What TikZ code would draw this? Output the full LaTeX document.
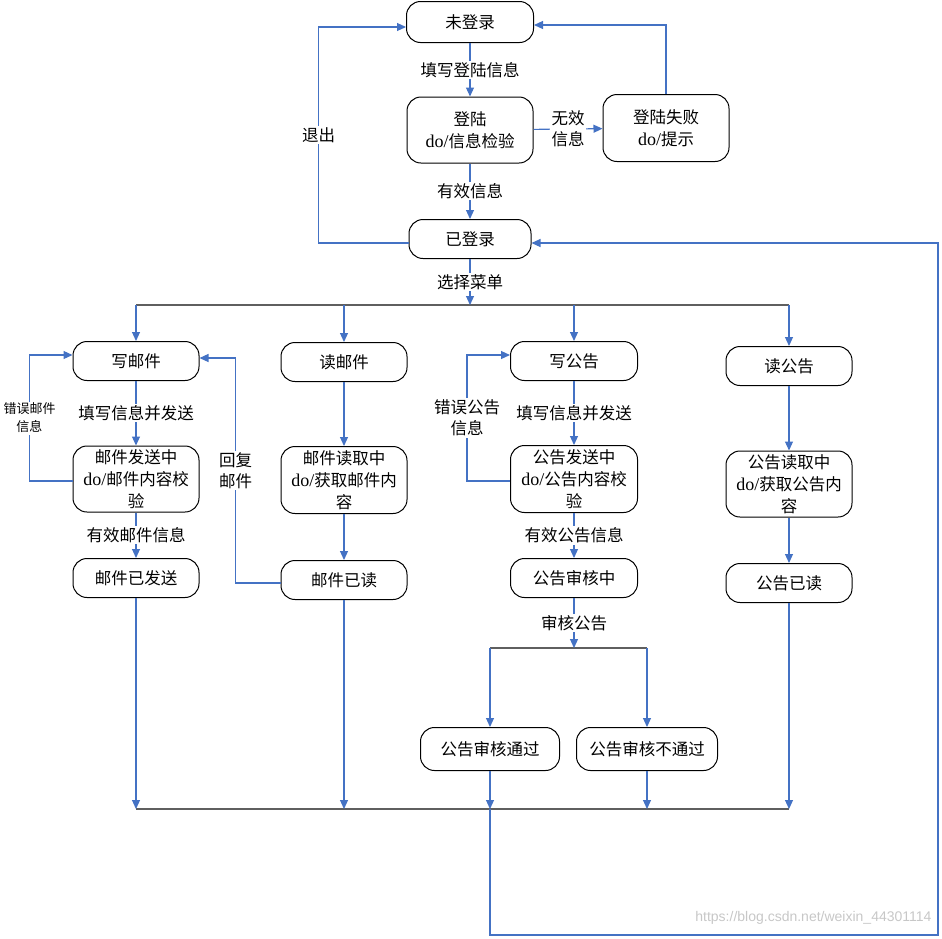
\documentclass[tikz,border=0pt]{standalone}
\usepackage{fontspec}
\setmainfont{Liberation Serif}
\newfontfamily\cjk{Noto Sans CJK SC}
\newfontfamily\wmfont{Liberation Sans}
\usetikzlibrary{arrows.meta,calc}

\definecolor{flowblue}{RGB}{68,114,196}
\definecolor{bargray}{RGB}{95,95,95}
\newcommand{\doact}{{\rmfamily\fontsize{18}{22}\selectfont do/}}

\tikzset{
  stbox/.style={draw, rounded corners=14pt, line width=1pt, inner sep=0pt,
    minimum width=126pt, minimum height=39pt, align=center,
    font=\cjk\fontsize{16.5}{22}\selectfont},
  flow/.style={draw=flowblue, line width=1.1pt, -{Triangle[length=9pt,width=8pt]}},
  bar/.style={draw=bargray, line width=2.5pt},
  lbl/.style={fill=white, inner sep=1.5pt, align=center,
    font=\cjk\fontsize{16.5}{21}\selectfont},
  smalllbl/.style={lbl, font=\cjk\fontsize{13}{18}\selectfont},
}

\begin{document}
\begin{tikzpicture}[x=1pt, y=-1pt]
    \useasboundingbox (0,0) rectangle (942,938);

    \node[stbox, minimum width=127pt, minimum height=41pt] (nologin) at (470,22) {未登录};
    \node[stbox, minimum height=66pt] (check)   at (470,130) {登陆\\\doact 信息检验};
    \node[stbox, minimum height=67pt] (fail)    at (666,128) {登陆失败\\\doact 提示};
    \node[stbox, minimum width=122pt] (login)   at (470,239) {已登录};

    \node[stbox] (wmail) at (136,361) {写邮件};
    \node[stbox, minimum height=66pt] (msend) at (136,479) {邮件发送中\\\doact 邮件内容校\\验};
    \node[stbox] (msent) at (136,578) {邮件已发送};

    \node[stbox] (rmail) at (344,362) {读邮件};
    \node[stbox, minimum height=67pt] (mread) at (344,480) {邮件读取中\\\doact 获取邮件内\\容};
    \node[stbox] (mdone) at (344,580) {邮件已读};

    \node[stbox, minimum width=127pt] (wnote) at (574,361) {写公告};
    \node[stbox, minimum width=127pt, minimum height=67pt] (nsend) at (574,479) {公告发送中\\\doact 公告内容校\\验};
    \node[stbox, minimum width=127pt] (nreview) at (574,578) {公告审核中};

    \node[stbox] (rnote) at (789,366) {读公告};
    \node[stbox, minimum height=66pt] (nread) at (789,484) {公告读取中\\\doact 获取公告内\\容};
    \node[stbox] (ndone) at (789,583) {公告已读};

    \node[stbox, minimum width=139pt, minimum height=43pt] (npass) at (490,749) {公告审核通过};
    \node[stbox, minimum width=141pt, minimum height=43pt] (nreject) at (647,749) {公告审核不通过};

    \node[font=\wmfont\fontsize{14}{14}\selectfont, text=black!22, anchor=east] (wm) at (935,918) {https://blog.csdn.net/weixin\_44301114};

    \coordinate (forkL) at (136,305);
    \coordinate (forkR) at (789,305);
    \coordinate (branchL) at (490,648);
    \coordinate (branchR) at (647,648);
    \coordinate (joinL) at (136,809);
    \coordinate (joinR) at (789,809);
    \coordinate (back) at (938,935);

    \draw[bar] (forkL) -- (forkR);
    \draw[bar] (branchL) -- (branchR);
    \draw[bar] (joinL) -- (joinR);

    \draw[flow] (nologin) -- node[lbl]{填写登陆信息} (check);
    \draw[flow] (check) -- node[lbl]{无效\\信息} (fail);
    \draw[flow] (check) -- node[lbl]{有效信息} (login);
    \draw[flow] (fail.north) |- ([yshift=-3pt]nologin.east);
    \draw[flow] ([yshift=-4pt]login.west) -- ++(-90,0) |- node[pos=0.25, lbl]{退出} ([yshift=-5pt]nologin.west);
    \draw[flow] (login) -- node[lbl]{选择菜单} (login |- forkL);

    \draw[flow] (forkL) -- (wmail);
    \draw[flow] (rmail |- forkL) -- (rmail);
    \draw[flow] (wnote |- forkL) -- (wnote);
    \draw[flow] (forkR) -- (rnote);

    \draw[flow] (wmail) -- node[lbl]{填写信息并发送} (msend);
    \draw[flow] (msend) -- node[lbl]{有效邮件信息} (msent);
    \draw[flow] ([yshift=-2pt]msend.west) -- ++(-43,0) |- node[pos=0.25, smalllbl]{错误邮件\\信息} ([yshift=6pt]wmail.west);
    \draw[flow] (rmail) -- (mread);
    \draw[flow] (mread) -- (mdone);
    \draw[flow] ([yshift=-3pt]mdone.west) -- ++(-45,0) |- node[pos=0.25, lbl]{回复\\邮件} ([yshift=3pt]wmail.east);

    \draw[flow] (wnote) -- node[lbl]{填写信息并发送} (nsend);
    \draw[flow] (nsend) -- node[lbl]{有效公告信息} (nreview);
    \draw[flow] ([yshift=-2pt]nsend.west) -- ++(-43,0) |- node[pos=0.25, lbl]{错误公告\\信息} ([yshift=6pt]wnote.west);
    \draw[flow] (nreview) -- node[lbl]{审核公告} (nreview |- branchL);
    \draw[flow] (branchL) -- (npass);
    \draw[flow] (branchR) -- (nreject);

    \draw[flow] (rnote) -- (nread);
    \draw[flow] (nread) -- (ndone);

    \draw[flow] (msent) -- (joinL);
    \draw[flow] (mdone) -- (mdone |- joinL);
    \draw[flow] (npass) -- (npass |- joinL);
    \draw[flow] (nreject) -- (nreject |- joinL);
    \draw[flow] (ndone) -- (joinR);
    \draw[flow] (npass |- joinL) |- (back) |- ([yshift=-4pt]login.east);
\end{tikzpicture}
\end{document}
